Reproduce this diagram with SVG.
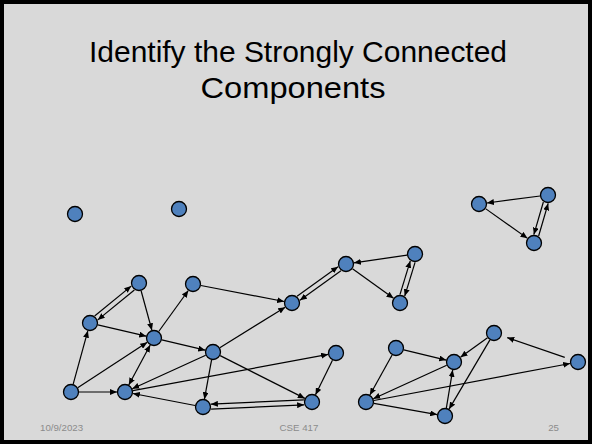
<svg xmlns="http://www.w3.org/2000/svg" width="592" height="444" viewBox="0 0 592 444">
<style>
.node{fill:#4f81bd;stroke:#000;stroke-width:1.3}
.edge{stroke:#000;stroke-width:1.2;fill:none;marker-end:url(#ah)}
.both{marker-start:url(#ah)}
.title{font-family:"Liberation Sans",Arial,sans-serif;font-size:30px;fill:#000;text-anchor:middle}
.foot{font-family:"Liberation Sans",Arial,sans-serif;font-size:9.7px;fill:#8b8b8b}
</style>
<defs>
<marker id="ah" markerUnits="userSpaceOnUse" markerWidth="8" markerHeight="6" refX="7" refY="3" orient="auto-start-reverse">
<path d="M0,0 L7,3 L0,6 z" fill="#000"/>
</marker>
</defs>
<rect x="2" y="2" width="588" height="440" fill="#d9d9d9" stroke="#000" stroke-width="4"/>
<text class="title" x="298" y="62" textLength="418" lengthAdjust="spacingAndGlyphs">Identify the Strongly Connected</text>
<text class="title" x="293" y="97.5" textLength="185" lengthAdjust="spacingAndGlyphs">Components</text>
<g id="connectors">
<line class="edge" x1="540.07" y1="196.03" x2="486.93" y2="202.97"/>
<line class="edge" x1="485.53" y1="208.63" x2="527.47" y2="238.37"/>
<line class="edge" x1="543.36" y1="201.98" x2="533.84" y2="234.62"/>
<line class="edge" x1="538.64" y1="236.02" x2="548.16" y2="203.38"/>
<line class="edge" x1="94.62" y1="316.0" x2="131.22" y2="286.12"/>
<line class="edge" x1="134.38" y1="290.0" x2="97.78" y2="319.88"/>
<line class="edge" x1="141.1" y1="290.72" x2="151.9" y2="330.28"/>
<line class="edge" x1="97.79" y1="324.83" x2="146.21" y2="336.17"/>
<line class="edge" x1="73.12" y1="384.29" x2="87.88" y2="330.71"/>
<line class="edge" x1="77.71" y1="387.64" x2="147.29" y2="342.36"/>
<line class="edge" x1="79" y1="392" x2="117" y2="392"/>
<line class="edge both" x1="128.78" y1="384.95" x2="150.22" y2="345.05"/>
<line class="edge" x1="158.68" y1="331.51" x2="188.32" y2="290.49"/>
<line class="edge" x1="161.78" y1="339.85" x2="205.22" y2="350.15"/>
<line class="edge" x1="205.72" y1="355.31" x2="132.28" y2="388.69"/>
<line class="edge" x1="195.14" y1="405.49" x2="132.86" y2="393.51"/>
<line class="edge" x1="211.57" y1="359.87" x2="204.43" y2="399.13"/>
<line class="edge" x1="132.87" y1="390.55" x2="328.13" y2="354.45"/>
<line class="edge" x1="220.14" y1="355.61" x2="304.86" y2="398.39"/>
<line class="edge" x1="219.8" y1="347.78" x2="285.2" y2="307.22"/>
<line class="edge" x1="200.86" y1="285.51" x2="284.14" y2="301.49"/>
<line class="edge" x1="297.03" y1="296.29" x2="338.05" y2="266.65"/>
<line class="edge" x1="340.97" y1="270.71" x2="299.95" y2="300.35"/>
<line class="edge" x1="407.08" y1="255.15" x2="353.92" y2="262.85"/>
<line class="edge" x1="352.49" y1="268.68" x2="393.51" y2="298.32"/>
<line class="edge" x1="399.95" y1="294.62" x2="410.27" y2="260.92"/>
<line class="edge" x1="415.05" y1="262.38" x2="404.73" y2="296.08"/>
<line class="edge" x1="332.48" y1="360.18" x2="315.52" y2="394.82"/>
<line class="edge" x1="303.9" y1="399.87" x2="210.88" y2="404.13"/>
<line class="edge" x1="211.1" y1="409.13" x2="304.12" y2="404.87"/>
<line class="edge" x1="403.78" y1="349.88" x2="446.22" y2="360.12"/>
<line class="edge" x1="392.11" y1="354.99" x2="369.89" y2="395.01"/>
<line class="edge" x1="446.72" y1="365.31" x2="373.28" y2="398.69"/>
<line class="edge" x1="487.52" y1="337.7" x2="460.48" y2="357.3"/>
<line class="edge" x1="489.93" y1="339.89" x2="449.07" y2="409.11"/>
<line class="edge" x1="564.77" y1="357.43" x2="507.23" y2="337.57"/>
<line class="edge" x1="373.86" y1="400.52" x2="570.14" y2="363.48"/>
<line class="edge" x1="373.88" y1="403.4" x2="437.12" y2="414.6"/>
<line class="edge" x1="446.32" y1="408.11" x2="452.68" y2="369.89"/>
</g>
<g id="A1"><circle class="node" cx="75" cy="214" r="7.5"/></g>
<g id="A2"><circle class="node" cx="179" cy="209" r="7.5"/></g>
<g id="T1"><circle class="node" cx="479" cy="204" r="7.5"/></g>
<g id="T2"><circle class="node" cx="548" cy="195" r="7.5"/></g>
<g id="T3"><circle class="node" cx="534" cy="243" r="7.5"/></g>
<g id="N1"><circle class="node" cx="139" cy="283" r="7.5"/></g>
<g id="N2"><circle class="node" cx="193" cy="284" r="7.5"/></g>
<g id="N3"><circle class="node" cx="90" cy="323" r="7.5"/></g>
<g id="N4"><circle class="node" cx="154" cy="338" r="7.5"/></g>
<g id="N5"><circle class="node" cx="213" cy="352" r="7.5"/></g>
<g id="N6"><circle class="node" cx="71" cy="392" r="7.5"/></g>
<g id="N7"><circle class="node" cx="125" cy="392" r="7.5"/></g>
<g id="N8"><circle class="node" cx="203" cy="407" r="7.5"/></g>
<g id="M1"><circle class="node" cx="292" cy="303" r="7.5"/></g>
<g id="M2"><circle class="node" cx="346" cy="264" r="7.5"/></g>
<g id="M3"><circle class="node" cx="415" cy="254" r="7.5"/></g>
<g id="M4"><circle class="node" cx="400" cy="303" r="7.5"/></g>
<g id="M5"><circle class="node" cx="336" cy="353" r="7.5"/></g>
<g id="M6"><circle class="node" cx="312" cy="402" r="7.5"/></g>
<g id="R1"><circle class="node" cx="396" cy="348" r="7.5"/></g>
<g id="R2"><circle class="node" cx="366" cy="402" r="7.5"/></g>
<g id="R3"><circle class="node" cx="454" cy="362" r="7.5"/></g>
<g id="R4"><circle class="node" cx="494" cy="333" r="7.5"/></g>
<g id="R5"><circle class="node" cx="578" cy="362" r="7.5"/></g>
<g id="R6"><circle class="node" cx="445" cy="416" r="7.5"/></g>
<text class="foot" x="40" y="431">10/9/2023</text>
<text class="foot" x="299" y="431" text-anchor="middle">CSE 417</text>
<text class="foot" x="559" y="431" text-anchor="end">25</text>
</svg>
